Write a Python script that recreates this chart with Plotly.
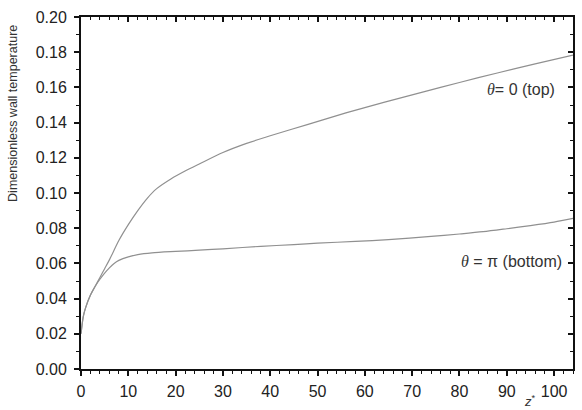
import plotly.graph_objects as go

# Data
z_top = [0, 0.5, 1, 2, 3, 4, 5, 6, 8, 10, 12, 14, 16, 19, 22, 25, 30, 35, 40, 48, 56, 64, 72, 80, 88, 96, 104]
T_top = [0.020, 0.030, 0.035, 0.042, 0.047, 0.052, 0.057, 0.062, 0.073, 0.082, 0.090, 0.097, 0.1025,
         0.108, 0.1125, 0.1165, 0.1230, 0.1282, 0.1325, 0.139, 0.1455, 0.1515, 0.1572, 0.1628, 0.1682,
         0.1734, 0.1783]

z_bot = [0, 0.5, 1, 2, 3, 4, 5, 6, 7, 8, 10, 12, 15, 20, 25, 30, 38, 45, 50, 58, 65, 74, 80, 85,
         90, 95, 100, 104]
T_bot = [0.020, 0.030, 0.035, 0.042, 0.047, 0.051, 0.0545, 0.0575, 0.0600, 0.0617, 0.0637, 0.0650,
         0.0660, 0.0668, 0.0675, 0.0683, 0.0697, 0.0707, 0.0715, 0.0725, 0.0735, 0.0753, 0.0767,
         0.0780, 0.0797, 0.0815, 0.0835, 0.0856]

x_ticks = [0, 10, 20, 30, 40, 50, 60, 70, 80, 90, 100]
y_ticks = [0.00, 0.02, 0.04, 0.06, 0.08, 0.10, 0.12, 0.14, 0.16, 0.18, 0.20]
y_tick_text = [f"{v:.2f}" for v in y_ticks]

x_range = [0, 104]
y_range = [0, 0.2]

FONT = "Liberation Sans, Arial, sans-serif"
LINE_COLOR = "#909090"

fig = go.Figure()
fig.add_trace(go.Scatter(x=z_top, y=T_top, mode="lines",
                         line=dict(color=LINE_COLOR, width=1.2, shape="spline", smoothing=0.8),
                         showlegend=False, hoverinfo="skip"))
fig.add_trace(go.Scatter(x=z_bot, y=T_bot, mode="lines",
                         line=dict(color=LINE_COLOR, width=1.2, shape="spline", smoothing=0.8),
                         showlegend=False, hoverinfo="skip"))
# invisible trace to activate mirror axes
fig.add_trace(go.Scatter(x=[None], y=[None], xaxis="x2", yaxis="y2", showlegend=False,
                         hoverinfo="skip"))

tickfont = dict(family=FONT, size=16, color="#222")

fig.update_layout(
    width=582, height=410,
    margin=dict(l=81, r=9, t=13, b=41),
    paper_bgcolor="white", plot_bgcolor="white",
    showlegend=False,
    xaxis=dict(range=x_range, tickvals=x_ticks, ticks="outside", ticklen=5, tickwidth=1.5,
               tickcolor="#111", showline=True, linecolor="#111", linewidth=2, showgrid=False,
               zeroline=False, tickfont=tickfont, ticklabelstandoff=2,
               minor=dict(ticks="outside", ticklen=3, dtick=2, tickcolor="#111", tickwidth=1.2,
                          showgrid=False)),
    yaxis=dict(range=y_range, tickvals=y_ticks, ticktext=y_tick_text, ticks="outside", ticklen=5,
               tickwidth=1.5, tickcolor="#111", showline=True, linecolor="#111", linewidth=2,
               showgrid=False, zeroline=False, tickfont=tickfont, ticklabelstandoff=4,
               minor=dict(ticks="outside", ticklen=3, dtick=0.01, tickcolor="#111",
                          tickwidth=1.2, showgrid=False)),
    xaxis2=dict(range=x_range, overlaying="x", side="top", tickvals=x_ticks, ticks="inside",
                ticklen=5, tickwidth=1.5, tickcolor="#111", showticklabels=False, showline=True,
                linecolor="#111", linewidth=1.5, showgrid=False, zeroline=False,
                minor=dict(ticks="inside", ticklen=3, dtick=2, tickcolor="#111", tickwidth=1.2,
                           showgrid=False)),
    yaxis2=dict(range=y_range, overlaying="y", side="right", tickvals=y_ticks, ticks="inside",
                ticklen=5, tickwidth=1.5, tickcolor="#111", showticklabels=False, showline=True,
                linecolor="#111", linewidth=1.5, showgrid=False, zeroline=False,
                minor=dict(ticks="inside", ticklen=3, dtick=0.01, tickcolor="#111",
                           tickwidth=1.2, showgrid=False)),
)

theta = '<span style="font-family:Liberation Serif, Times New Roman, serif"><i>θ</i></span>'
fig.add_annotation(x=100.7, y=0.159, xref="x", yref="y", xanchor="right", yanchor="middle",
                   text=theta + "= 0 (top)", showarrow=False,
                   font=dict(family=FONT, size=16, color="#333"))
fig.add_annotation(x=102.2, y=0.0612, xref="x", yref="y", xanchor="right", yanchor="middle",
                   text=theta + " = π (bottom)", showarrow=False,
                   font=dict(family=FONT, size=16, color="#333"))
fig.add_annotation(x=-0.138, y=0.725, xref="paper", yref="paper", xanchor="center",
                   yanchor="middle", textangle=-90, text="Dimensionless wall temperature",
                   showarrow=False, font=dict(family=FONT, size=12.5, color="#333"))
fig.add_annotation(x=0.913, y=-0.092, xref="paper", yref="paper", xanchor="center",
                   yanchor="middle", text="<i>z</i><sup>*</sup>", showarrow=False,
                   font=dict(family=FONT, size=13, color="#333"))

fig.write_html("out.html")
